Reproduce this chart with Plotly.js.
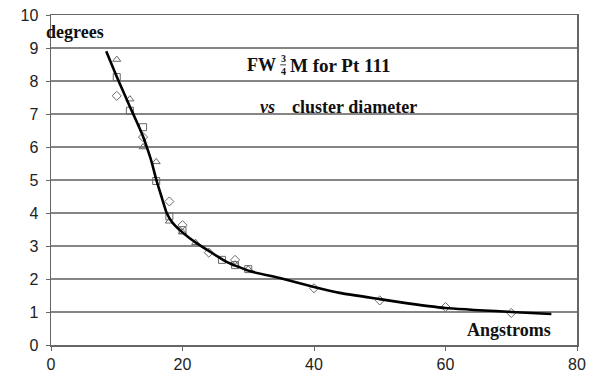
<!DOCTYPE html>
<html><head><meta charset="utf-8">
<script src="https://cdn.plot.ly/plotly-3.0.1.min.js"></script>
<style>html,body{margin:0;padding:0;background:#fff}#chart{width:590px;height:373px}</style>
</head><body><div id="chart"></div>
<script>
// Fitted curve
var fitX = [8.4, 10, 12, 13, 14, 14.6, 15.3, 16, 16.8, 17.6, 18.5, 19.6, 21, 22.2, 24, 26.7, 30.2, 34.8, 40, 43.9, 50, 53, 60, 70, 76.1];
var fitY = [8.9, 8.13, 7.22, 6.78, 6.32, 5.98, 5.55, 5.02, 4.5, 4.0, 3.7, 3.48, 3.25, 3.08, 2.85, 2.52, 2.24, 2.03, 1.76, 1.58, 1.39, 1.3, 1.12, 1.0, 0.94];
// Data points (three marker series)
var triX = [10, 12, 14, 16, 18, 20, 22, 28, 30];
var triY = [8.65, 7.45, 6.0, 5.55, 3.75, 3.42, 3.1, 2.45, 2.3];
var sqX = [10, 12, 14, 16, 18, 20, 26, 28, 30];
var sqY = [8.12, 7.1, 6.6, 4.97, 3.9, 3.48, 2.58, 2.42, 2.3];
var diaX = [10, 14, 18, 20, 24, 28, 40, 50, 60, 70];
var diaY = [7.55, 6.3, 4.35, 3.63, 2.8, 2.58, 1.72, 1.35, 1.15, 0.97];
// Axis ticks
var xTicks = [0, 20, 40, 60, 80];
var yTicks = [0, 1, 2, 3, 4, 5, 6, 7, 8, 9, 10];

var mk = function(sym){ return {symbol: sym, size: 7, color: '#6a6a6a', line: {color: '#6a6a6a', width: 1}}; };
var traces = [
  {x: triX, y: triY, mode: 'markers', type: 'scatter', marker: mk('triangle-up-open'), cliponaxis: false},
  {x: sqX, y: sqY, mode: 'markers', type: 'scatter', marker: mk('square-open'), cliponaxis: false},
  {x: diaX, y: diaY, mode: 'markers', type: 'scatter', marker: mk('diamond-open'), cliponaxis: false},
  {x: fitX, y: fitY, mode: 'lines', type: 'scatter', line: {color: '#000', width: 2.6, shape: 'spline', smoothing: 0.5}}
];
var serif = 'Liberation Serif, DejaVu Serif, serif';
var tf = {family: serif, size: 18, color: '#111'};
var sf = {family: serif, size: 10, color: '#111'};
var tickf = {family: 'Liberation Sans, Arial, sans-serif', size: 16, color: '#222'};
function ann(x, y, xa, txt, font, ref) {
  return {xref: ref || 'x', yref: ref || 'y', x: x, y: y, xanchor: xa, yanchor: 'middle',
          text: txt, showarrow: false, font: font};
}
var layout = {
  width: 590, height: 373,
  margin: {l: 51, r: 13, t: 15, b: 28},
  paper_bgcolor: '#fff', plot_bgcolor: '#fff',
  showlegend: false,
  xaxis: {range: [0, 80], tickvals: xTicks, ticks: 'outside', ticklen: 4, tickcolor: '#666',
          showgrid: false, zeroline: false, showline: true, linecolor: '#666', linewidth: 1.5,
          mirror: true, tickfont: tickf},
  yaxis: {range: [0, 10], tickvals: yTicks, ticks: 'outside', ticklen: 4, tickcolor: '#666',
          ticklabelstandoff: 4,
          showgrid: true, gridcolor: '#858585', gridwidth: 1.8, zeroline: false,
          showline: true, linecolor: '#666', linewidth: 1.5, mirror: true, tickfont: tickf},
  annotations: [
    ann(-0.0133, 0.948, 'left', '<b>degrees</b>', tf, 'paper'),
    ann(34.55, 8.48, 'right', '<b>FW</b>', tf),
    ann(35.3, 8.68, 'center', '<b>3</b>', sf),
    ann(35.3, 8.29, 'center', '<b>4</b>', sf),
    ann(36.05, 8.48, 'left', '<b>M for Pt 111</b>', {family: serif, size: 19, color: '#111'}),
    ann(31.5, 7.21, 'left', '<b><i>vs</i></b>', tf),
    ann(36.35, 7.21, 'left', '<b>cluster diameter</b>', tf),
    ann(76.35, 0.45, 'right', '<b>Angstroms</b>', tf)
  ],
  shapes: [
    {type: 'line', xref: 'x', yref: 'y', x0: 34.85, x1: 35.75, y0: 8.49, y1: 8.49, line: {color: '#111', width: 0.8}}
  ]
};
Plotly.newPlot('chart', traces, layout, {staticPlot: true, displayModeBar: false});
</script></body></html>
